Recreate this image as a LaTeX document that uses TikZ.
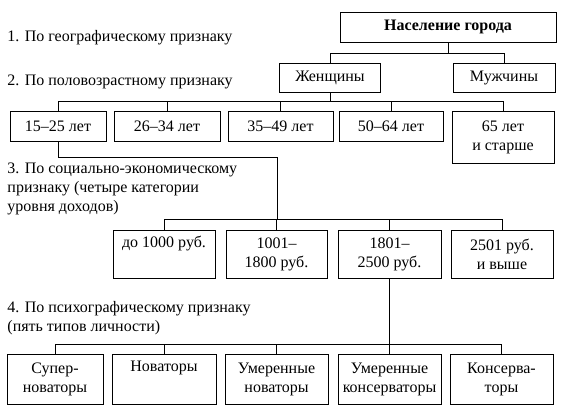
\documentclass[tikz,border=0pt]{standalone}
\usepackage{fontspec}
\setmainfont{Liberation Serif}
\usepackage{tikz}
\usetikzlibrary{positioning}

\begin{document}
\begin{tikzpicture}[x=1pt, y=-1pt, line width=0.9pt,
    box/.style={draw, align=center, inner sep=0pt, font=\fontsize{16}{19}\selectfont},
    lbl/.style={anchor=west, align=left, inner sep=0pt, font=\fontsize{16}{19}\selectfont}]
  \useasboundingbox (0,0) rectangle (567,409);

  % признаки
  \node[lbl] (t1) at (7,38) {1. По географическому признаку};
  \node[lbl] (t2) at (7,82) {2. По половозрастному признаку};
  \node[lbl] (t3) at (7,189) {3. По социально-экономическому\\признаку (четыре категории\\уровня доходов)};
  \node[lbl] (t4) at (7,318) {4. По психографическому признаку\\(пять типов личности)};

  % узлы
  \node[box, minimum width=216pt, minimum height=30pt, font=\fontsize{16}{19}\selectfont\bfseries] (pop) at (448,27) {Население города};
  \node[box, minimum width=101pt, minimum height=29pt] (f) at (330,77.5) {Женщины};
  \node[box, minimum width=102pt, minimum height=29pt] (m) at (504,77.5) {Мужчины};

  \node[box, minimum width=96pt,  minimum height=30pt] (a1) at (58,126)  {15--25 лет};
  \node[box, minimum width=106pt, minimum height=30pt] (a2) at (167,126) {26--34 лет};
  \node[box, minimum width=105pt, minimum height=30pt] (a3) at (280.5,126) {35--49 лет};
  \node[box, minimum width=104pt, minimum height=30pt] (a4) at (391,126) {50--64 лет};
  \node[box, minimum width=102pt, minimum height=52pt] (a5) at (503,137) {65 лет\\и старше};

  \node[box, minimum width=102pt, minimum height=48pt] (i1) at (164,254)   {до 1000 руб.\\\strut};
  \node[box, minimum width=101pt, minimum height=48pt] (i2) at (276.5,254) {1001--\\1800 руб.};
  \node[box, minimum width=103pt, minimum height=48pt] (i3) at (389.5,254) {1801--\\2500 руб.};
  \node[box, minimum width=102pt, minimum height=48pt] (i4) at (502,254)   {2501 руб.\\и выше};

  \node[box, minimum width=96pt,  minimum height=50pt] (p1) at (55,379)    {Супер-\\новаторы};
  \node[box, minimum width=104pt, minimum height=50pt] (p2) at (164,379)   {Новаторы\\\strut};
  \node[box, minimum width=103pt, minimum height=50pt] (p3) at (276.5,379) {Умеренные\\новаторы};
  \node[box, minimum width=103pt, minimum height=50pt] (p4) at (389.5,379) {Умеренные\\консерваторы};
  \node[box, minimum width=103pt, minimum height=50pt] (p5) at (501.5,379) {Консерва-\\торы};

  % линии
  \coordinate (bus1) at (0,53);
  \draw (pop.south) -- (pop.south |- bus1);
  \draw (f.north) -- (f.north |- bus1) -| (m.north);

  \coordinate (bus2) at (0,101);
  \draw (f.south) -- (f.south |- bus2);
  \draw (a1.north) -- (a1.north |- bus2) -| (a5.north);
  \foreach \n in {a2,a3,a4}
    \draw (\n.north) -- (\n.north |- bus2);

  \coordinate (bend) at (277,157);
  \coordinate (bus3) at (0,219);
  \draw (a1.south) |- (bend) -- (bend |- bus3);
  \draw (i1.north) -- (i1.north |- bus3) -| (i4.north);
  \foreach \n in {i2,i3}
    \draw (\n.north) -- (\n.north |- bus3);

  \coordinate (bus4) at (0,344);
  \draw (i3.south) -- (i3.south |- bus4);
  \draw (p1.north) -- (p1.north |- bus4) -| (p5.north);
  \foreach \n in {p2,p3,p4}
    \draw (\n.north) -- (\n.north |- bus4);
\end{tikzpicture}
\end{document}
